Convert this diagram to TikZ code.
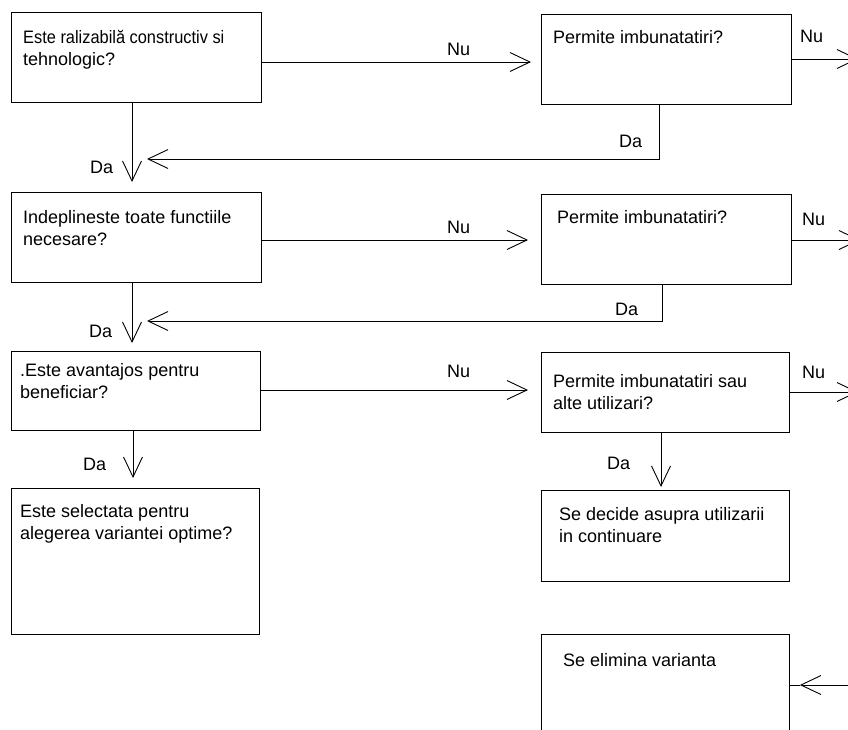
\documentclass[tikz,border=0pt]{standalone}
\usepackage{fontspec}
\usepackage{graphicx}
\setmainfont{Liberation Sans}
\usetikzlibrary{arrows.meta}
\begin{document}
\begin{tikzpicture}[x=1pt,y=-1pt,
  box/.style={draw, line width=0.9pt, anchor=north west, inner sep=0pt},
  txt/.style={anchor=base west, inner sep=0pt, align=left, font=\fontsize{18}{22}\selectfont},
  lbl/.style={anchor=base west, inner sep=0pt, font=\fontsize{18}{22}\selectfont},
  conn/.style={line width=0.9pt, -{Straight Barb[length=20pt,width=19pt]}},
  plainline/.style={line width=0.9pt}]
\useasboundingbox (0,0) rectangle (848,729);
\clip (0,0) rectangle (848,729);
% boxes
\node[box, minimum width=250pt, minimum height=90pt] (b1) at (11,12) {};
\node[box, minimum width=250pt, minimum height=90pt] (b2) at (541,14) {};
\node[box, minimum width=250pt, minimum height=90pt] (b3) at (11,192) {};
\node[box, minimum width=250pt, minimum height=90pt] (b4) at (541,194) {};
\node[box, minimum width=249pt, minimum height=79pt] (b5) at (11,351) {};
\node[box, minimum width=248pt, minimum height=80pt] (b6) at (541,352) {};
\node[box, minimum width=248pt, minimum height=146pt] (b7) at (11,488) {};
\node[box, minimum width=248pt, minimum height=91pt] (b8) at (541,490) {};
\node[box, minimum width=248pt, minimum height=130pt] (b9) at (541,634) {};
% texts (base = baseline of the last line)
\node[txt] (t1) at (23,65) {\scalebox{0.91}[1]{Este ralizabilă constructiv si}\\tehnologic?};
\node[txt] (t2) at (553,43) {Permite imbunatatiri?};
\node[txt] (t3) at (23,245) {Indeplineste toate functiile\\necesare?};
\node[txt] (t4) at (557,223) {Permite imbunatatiri?};
\node[txt] (t5) at (20,398) {.Este avantajos pentru\\beneficiar?};
\node[txt] (t6) at (553,409) {Permite imbunatatiri sau\\alte utilizari?};
\node[txt] (t7) at (20,539) {Este selectata pentru\\alegerea variantei optime?};
\node[txt] (t8) at (559,542) {Se decide asupra utilizarii\\in continuare};
\node[txt] (t9) at (563,666) {Se elimina varianta};
% labels
\node[lbl] (nu1) at (447,55) {Nu};
\node[lbl] (nu2) at (800,42) {Nu};
\node[lbl] (nu3) at (447,233) {Nu};
\node[lbl] (nu4) at (802,225) {Nu};
\node[lbl] (nu5) at (447,377) {Nu};
\node[lbl] (nu6) at (802,378) {Nu};
\node[lbl] (da1) at (90,173) {Da};
\node[lbl] (da2) at (619,147) {Da};
\node[lbl] (da3) at (89,337) {Da};
\node[lbl] (da4) at (615,315) {Da};
\node[lbl] (da5) at (83,470) {Da};
\node[lbl] (da6) at (607,469) {Da};
% free ends
\coordinate (o1) at (858,59);
\coordinate (o2) at (860,240);
\coordinate (o3) at (858,392);
\coordinate (o4) at (860,685);
\coordinate (m1) at (147,159);
\coordinate (m2) at (147,321);
% connectors row 1
\draw[conn, shorten >=10pt] (b1.east |- 0,62) -- (b2.west |- 0,62);
\draw[conn] (b2.east |- o1) -- (o1);
\draw[conn] (b2.south -| 659,0) |- (m1);
\draw[conn, shorten >=10pt] (b1.south -| 132,0) -- (b3.north -| 132,0);
% row 2
\draw[conn, shorten >=13pt] (b3.east |- 0,240) -- (b4.west |- 0,240);
\draw[conn] (b4.east |- o2) -- (o2);
\draw[conn] (b4.south -| 662,0) |- (m2);
\draw[conn, shorten >=8pt] (b3.south -| 132,0) -- (b5.north -| 132,0);
% row 3
\draw[conn, shorten >=13pt] (b5.east |- 0,390) -- (b6.west |- 0,390);
\draw[conn] (b6.east |- o3) -- (o3);
\draw[conn, shorten >=10pt] (b5.south -| 133,0) -- (b7.north -| 133,0);
\draw[conn, shorten >=3pt] (b6.south -| 661,0) -- (b8.north -| 661,0);
% bottom
\draw[conn, shorten >=10pt] (o4) -- (b9.east |- o4);
\draw[plainline] (b9.east |- o4) -- ++(10,0);
\end{tikzpicture}
\end{document}
